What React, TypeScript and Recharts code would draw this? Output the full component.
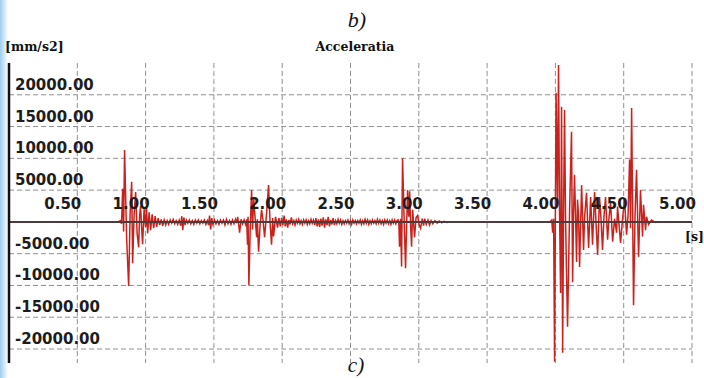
import {
  LineChart,
  Line,
  XAxis,
  YAxis,
  CartesianGrid,
  ReferenceLine,
} from "recharts";

// time [s], acceleration [mm/s2]
const quietStart: [number, number][] = [
  [0, 0], [0.4, 0], [0.8, 0], [0.815, 200],
];

const burst1: [number, number][] = [
  [0.824, -300], [0.832, 5200], [0.839, -1500], [0.846, 11300], [0.861, -2500],
  [0.876, -10100], [0.887, 1500], [0.898, 6300], [0.905, -6500], [0.916, 1200],
  [0.927, 4700], [0.938, -1800], [0.949, -4000], [0.956, 800], [0.963, 2500],
  [0.971, -900], [0.978, -3500], [0.989, 2000], [1.0, -800], [1.007, 2200],
  [1.015, -1800], [1.026, 1500], [1.037, -1300], [1.048, 1200], [1.059, -1000],
  [1.07, 900], [1.081, -800], [1.092, 600], [1.103, -500],
];

const noise1: [number, number][] = [
  [1.114, 400], [1.125, -600], [1.136, 300], [1.147, -500], [1.158, 200],
  [1.169, -400], [1.18, 300], [1.191, -200], [1.202, 400], [1.213, -300],
  [1.224, 200], [1.235, -400], [1.246, 300], [1.257, -600], [1.265, 900],
  [1.272, -1300], [1.28, 700], [1.289, -500], [1.298, 300], [1.309, -200],
  [1.32, 300], [1.331, -300], [1.342, 200], [1.353, -400], [1.364, 300],
  [1.375, -200], [1.386, 300], [1.397, -300], [1.408, 200], [1.419, -200],
  [1.43, 300], [1.441, -400], [1.452, 200], [1.461, -500], [1.468, 1000],
  [1.476, -1200], [1.484, 600], [1.493, -400], [1.504, 300], [1.515, -300],
  [1.526, 200], [1.537, -400], [1.548, 300], [1.559, -200], [1.57, 300],
  [1.581, -500], [1.592, 400], [1.603, -300], [1.614, 200], [1.625, -400],
  [1.636, 300], [1.647, -300], [1.658, 400], [1.666, -200],
];

const burst2: [number, number][] = [
  [1.674, 800], [1.681, -300], [1.688, -1700], [1.699, 400], [1.71, -300],
  [1.721, 300], [1.732, -400], [1.74, 400], [1.746, -3600], [1.75, 800],
  [1.756, -10000], [1.766, -1000], [1.776, 5000], [1.783, -1200], [1.791, 3800],
  [1.802, 500], [1.813, -2400], [1.818, 400], [1.827, -4700], [1.838, -600],
  [1.849, 1900], [1.86, 200], [1.871, -2400], [1.885, 1200], [1.9, 5800],
  [1.912, -500], [1.922, -3600], [1.93, 600], [1.937, -2300], [1.951, 800],
  [1.966, -900], [1.976, 600], [1.986, -700],
];

const noise2: [number, number][] = [
  [1.996, 600], [2.005, -500], [2.014, 1000], [2.022, -700], [2.031, 400],
  [2.04, -900], [2.049, 300], [2.058, -400], [2.067, 700], [2.076, -300],
  [2.085, 200], [2.094, -500], [2.103, 300], [2.112, -200], [2.121, 400],
  [2.13, -300], [2.139, 200], [2.148, -400], [2.157, 300], [2.166, -200],
  [2.175, 300], [2.184, -400], [2.193, 200], [2.202, -300], [2.211, 400],
  [2.22, -200], [2.229, 300], [2.238, -500], [2.247, 600], [2.256, -700],
  [2.265, 400], [2.274, -800], [2.283, 500], [2.292, -600], [2.301, 700],
  [2.31, -900], [2.319, 400], [2.328, -500], [2.337, 800], [2.346, -700],
  [2.355, 300], [2.364, -400], [2.373, 600], [2.382, -500], [2.391, 200],
  [2.4, -300], [2.409, 400], [2.418, -200], [2.427, 300], [2.436, -400],
  [2.445, 200], [2.454, -300], [2.463, 200], [2.472, -200], [2.481, 300],
  [2.49, -300], [2.499, 200], [2.508, -400], [2.517, 300], [2.526, -200],
  [2.535, 200], [2.544, -300], [2.553, 200], [2.562, -200], [2.571, 300],
  [2.58, -400], [2.589, 200], [2.598, -300], [2.607, 400], [2.616, -200],
  [2.625, 300], [2.634, -400], [2.643, 200], [2.652, -300], [2.661, 300],
  [2.67, -200], [2.679, 200], [2.688, -300], [2.697, 400], [2.706, -200],
  [2.715, 300], [2.724, -300], [2.733, 200], [2.742, -400], [2.751, 300],
  [2.76, -200], [2.769, 300], [2.778, -300], [2.787, 200], [2.796, -400],
  [2.805, 300], [2.814, -200], [2.823, 300], [2.832, -300], [2.84, 200],
];

const burst3: [number, number][] = [
  [2.848, 300], [2.854, -300], [2.859, -3900], [2.866, 500], [2.874, -7000],
  [2.881, 10000], [2.892, 1000], [2.903, -7300], [2.911, -500], [2.918, 5000],
  [2.926, 800], [2.933, 4800], [2.94, -600], [2.947, -3900], [2.955, 1900],
  [2.962, -300], [2.969, -2400], [2.98, 700], [2.991, 1000], [3.002, -400],
  [3.013, -1000], [3.025, 500], [3.035, -600], [3.043, 500], [3.055, -400],
  [3.067, 300], [3.079, -500], [3.09, 200], [3.102, -300], [3.118, 200],
  [3.135, -200], [3.15, 150], [3.168, -150], [3.185, 100], [3.205, -100],
  [3.23, 0],
];

const quietMid: [number, number][] = [
  [3.6, 0], [3.96, 0],
];

const burst4: [number, number][] = [
  [3.973, 300], [3.98, -1700], [3.987, 500], [3.994, -22000], [4.005, 20300],
  [4.015, 3000], [4.023, 24700], [4.03, 2000], [4.038, -11200], [4.045, 18100],
  [4.053, -20600], [4.06, 2000], [4.067, 17600], [4.074, 1000], [4.082, -8700],
  [4.089, -16500], [4.104, 2000], [4.118, 14200], [4.126, -9500], [4.133, 1500],
  [4.14, 7400], [4.148, 500], [4.155, -6300], [4.162, 3500], [4.17, 800],
  [4.177, -7100], [4.192, 5800], [4.206, -4400], [4.214, 800], [4.228, 4600],
  [4.243, -4100], [4.258, 3900], [4.272, -3600], [4.287, 4700], [4.298, -500],
  [4.309, -5200], [4.323, 3900], [4.334, 500], [4.345, -4400], [4.356, 1000],
  [4.367, 3900], [4.382, -2800], [4.393, 800], [4.404, 3000], [4.419, -3100],
  [4.433, 500], [4.448, -1700], [4.455, 2400], [4.477, -3300], [4.492, 600],
  [4.506, 3500], [4.521, -2000], [4.532, 1000], [4.543, 9800], [4.55, -1000],
  [4.558, 17900], [4.572, -13100], [4.583, 1000], [4.594, 8200], [4.609, -5500],
  [4.623, 5000], [4.638, -2300], [4.645, 2700], [4.66, -1300], [4.667, 800],
  [4.682, -400], [4.704, 300], [4.733, -100], [4.76, 0],
];

const xTicks = [0, 0.5, 1, 1.5, 2, 2.5, 3, 3.5, 4, 4.5, 5];
const yTicks = [-20000, -15000, -10000, -5000, 0, 5000, 10000, 15000, 20000];
const Y_MIN = -22200;
const Y_MAX = 25000;

const data = [
  ...quietStart, ...burst1, ...noise1, ...burst2, ...noise2,
  ...burst3, ...quietMid, ...burst4,
].map(([t, v]) => ({ t, v }));

const W = 704;
const H = 378;
const TOP = 63;
const BOTTOM = 14;
const AXIS_H = 1;
const PLOT_H = H - TOP - BOTTOM - AXIS_H;
const ZERO_Y = TOP + (Y_MAX / (Y_MAX - Y_MIN)) * PLOT_H;

const tickFont = {
  fontFamily: "'DejaVu Sans', sans-serif",
  fontWeight: 700,
  fontSize: 15,
  fill: "#1c1c1c",
};

const YTick = (props: any) => {
  const { y, payload } = props;
  if (payload.value === 0) return <g />;
  return (
    <text x={15} y={y - 5} textAnchor="start" {...tickFont}>
      {Number(payload.value).toFixed(2)}
    </text>
  );
};

const XTick = (props: any) => {
  const { x, payload } = props;
  if (payload.value === 0) return <g />;
  return (
    <text x={x + 4} y={ZERO_Y - 13} textAnchor="end" {...tickFont}>
      {Number(payload.value).toFixed(2)}
    </text>
  );
};

const serifBold = {
  fontFamily: "'DejaVu Serif', serif",
  fontWeight: 700,
  fontSize: 12.5,
  fill: "#111",
};

export default function App() {
  return (
    <div
      style={{
        position: "absolute",
        left: 0,
        top: 0,
        width: W,
        height: H,
        background: "#fff",
        overflow: "hidden",
      }}
    >
      <div
        style={{
          position: "absolute",
          left: 0,
          top: 0,
          width: 8,
          height: H,
          background: "linear-gradient(to right, #9ccdee, #ffffff)",
        }}
      />
      <div style={{ position: "absolute", left: 0, top: 0 }}>
        <LineChart
          width={W}
          height={H}
          data={data}
          margin={{ top: TOP, right: 12, bottom: BOTTOM, left: 8 }}
        >
          <CartesianGrid
            stroke="#8f8f8f"
            strokeDasharray="5 3"
            strokeWidth={1}
            horizontalValues={yTicks}
            verticalValues={xTicks}
          />
          <XAxis
            type="number"
            dataKey="t"
            domain={[0, 5]}
            ticks={xTicks}
            height={AXIS_H}
            axisLine={false}
            tickLine={false}
            tick={(p: any) => <XTick {...p} />}
            interval={0}
          />
          <YAxis
            type="number"
            domain={[Y_MIN, Y_MAX]}
            ticks={yTicks}
            width={1}
            axisLine={{ stroke: "#111", strokeWidth: 2.5 }}
            tickLine={false}
            tick={(p: any) => <YTick {...p} />}
            interval={0}
            allowDataOverflow
          />
          <Line
            type="linear"
            dataKey="v"
            stroke="#c9221c"
            strokeWidth={1.5}
            dot={false}
            isAnimationActive={false}
          />
          <ReferenceLine y={0} stroke="#4d3a3a" strokeWidth={2} />
        </LineChart>
      </div>
      <svg
        width={W}
        height={H}
        style={{ position: "absolute", left: 0, top: 0, pointerEvents: "none" }}
      >
        <text
          x={357}
          y={27}
          textAnchor="middle"
          fontFamily="'Liberation Serif', serif"
          fontStyle="italic"
          fontSize={22}
          fill="#111"
        >
          b)
        </text>
        <text x={5} y={51} {...serifBold}>
          [mm/s2]
        </text>
        <text x={355} y={51} textAnchor="middle" {...serifBold}>
          Acceleratia
        </text>
        <text x={685} y={241} {...serifBold}>
          [s]
        </text>
        <text
          x={356}
          y={372}
          textAnchor="middle"
          fontFamily="'Liberation Serif', serif"
          fontStyle="italic"
          fontSize={21}
          fill="#111"
        >
          c)
        </text>
      </svg>
    </div>
  );
}
